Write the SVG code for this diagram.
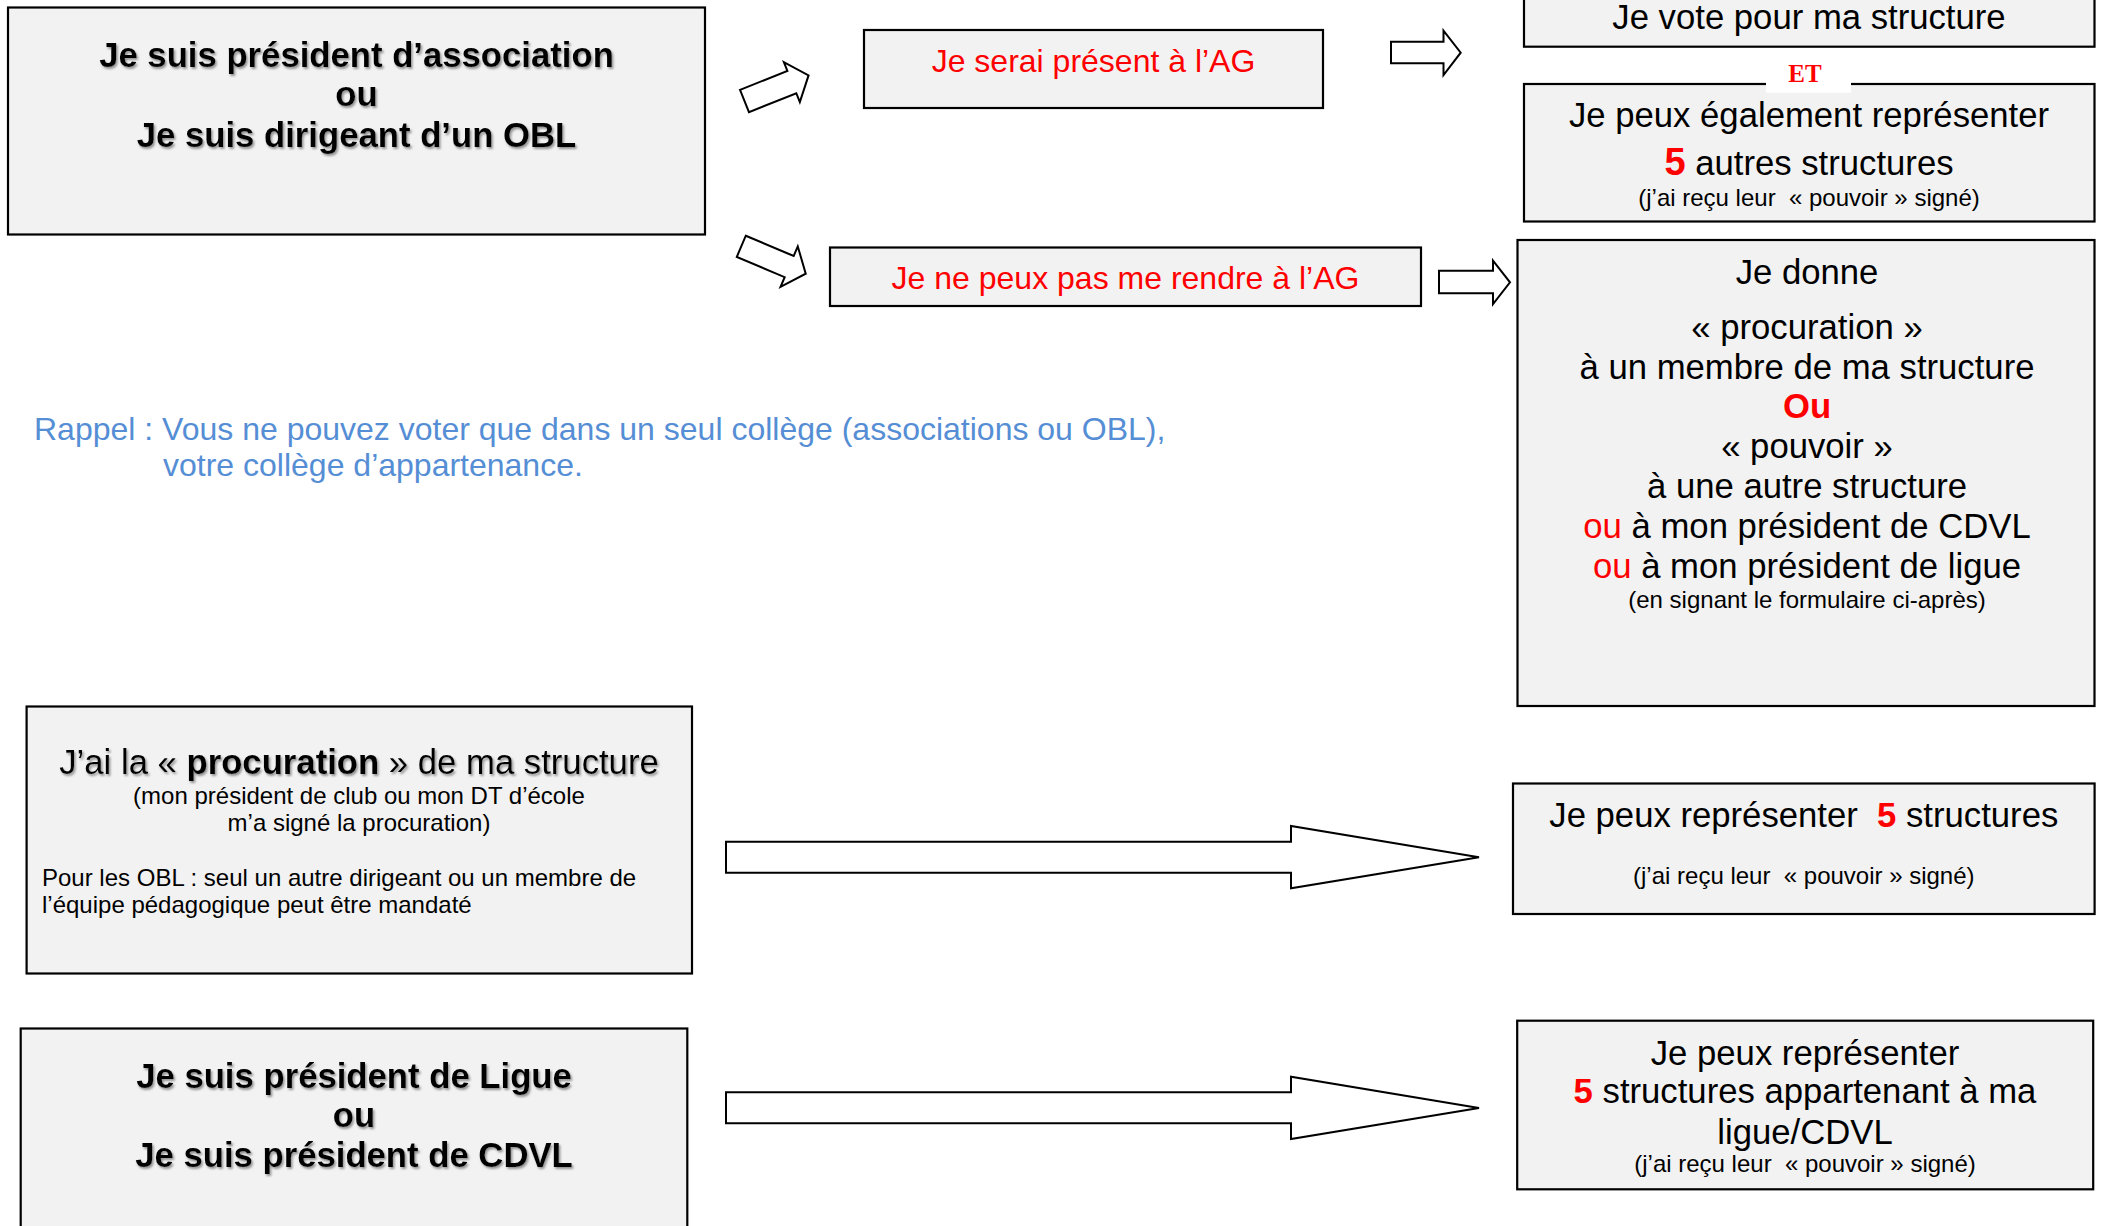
<svg xmlns="http://www.w3.org/2000/svg" width="2101" height="1226" viewBox="0 0 2101 1226">
<defs>
<style>
.box{fill:#f2f2f2;stroke:#000;stroke-width:2.2}
.arr{fill:#fff;stroke:#000;stroke-width:2;stroke-linejoin:miter}
text{font-family:"Liberation Sans",Arial,sans-serif;fill:#000}
.big{font-size:34.7px}
.bold{font-weight:bold}
.mid{text-anchor:middle}
.sm{font-size:24px}
.red{fill:#ff0000}
.ag{font-size:32px;fill:#ff0000}
.blue{font-size:32px;fill:#558ed5}
.et{font-family:"Liberation Serif","Times New Roman",serif;font-weight:bold;font-size:25px;fill:#ff0000;text-anchor:middle}
</style>
<filter id="shadow" x="-5%" y="-30%" width="110%" height="160%">
<feDropShadow dx="1.5" dy="2" stdDeviation="1" flood-color="#808080" flood-opacity="0.85"/>
</filter>
</defs>
<rect x="0" y="0" width="2101" height="1226" fill="#fff"/>

<g id="connectors">
<polygon class="arr" transform="translate(744.5,101) rotate(-21.8)" points="0,-12 51,-12 51,-21.5 69,0 51,21.5 51,12 0,12"/>
<polygon class="arr" transform="translate(741.3,246.3) rotate(23)" points="0,-11.5 52,-11.5 52,-22 70,0 52,22 52,11.5 0,11.5"/>
<polygon class="arr" points="1391,41.7 1443.5,41.7 1443.5,30.7 1460.7,52.7 1443.5,75 1443.5,63.3 1391,63.3"/>
<polygon class="arr" points="1439,270.7 1493,270.7 1493,260.7 1510,282.3 1493,304 1493,293.3 1439,293.3"/>
<polygon class="arr" points="726,841.7 1291,841.7 1291,826 1479,857.3 1291,888.3 1291,872.7 726,872.7"/>
<polygon class="arr" points="726,1092.3 1291,1092.3 1291,1076.7 1479,1108 1291,1139 1291,1123.3 726,1123.3"/>
</g>

<g id="node-president">
<rect class="box" x="8" y="7.5" width="697" height="227" stroke-width="2.6"/>
<g filter="url(#shadow)">
<text class="big bold mid" x="356.5" y="66.5">Je suis président d’association</text>
<text class="big bold mid" x="356.5" y="105.5">ou</text>
<text class="big bold mid" x="356.5" y="146.5">Je suis dirigeant d’un OBL</text>
</g>
</g>

<g id="node-present">
<rect class="box" x="864" y="30" width="459" height="78"/>
<text class="ag mid" x="1093.5" y="71.5">Je serai présent à l’AG</text>
</g>

<g id="node-absent">
<rect class="box" x="830" y="247.5" width="591" height="58.5"/>
<text class="ag mid" x="1125.5" y="288.5">Je ne peux pas me rendre à l’AG</text>
</g>

<g id="node-vote">
<rect class="box" x="1524" y="-20" width="570.5" height="66.7"/>
<text class="big mid" x="1809" y="28.5">Je vote pour ma structure</text>
</g>

<g id="node-represent-other">
<rect class="box" x="1524" y="84" width="570.5" height="137.5"/>
<text class="big mid" x="1809" y="127">Je peux également représenter</text>
<text class="big mid" x="1809" y="174.5"><tspan class="bold red" font-size="38">5</tspan> autres structures</text>
<text class="sm mid" x="1809" y="205.5">(j’ai reçu leur&#160; « pouvoir » signé)</text>
</g>

<g id="label-et">
<rect x="1766" y="60" width="85" height="32.7" fill="#fff"/>
<text class="et" x="1805" y="82">ET</text>
</g>

<g id="node-procuration-give">
<rect class="box" x="1517.5" y="240" width="577" height="466"/>
<text class="big mid" x="1807" y="283.5">Je donne</text>
<text class="big mid" x="1807" y="338.5">« procuration »</text>
<text class="big mid" x="1807" y="378.5">à un membre de ma structure</text>
<text class="big bold mid red" x="1807" y="418">Ou</text>
<text class="big mid" x="1807" y="458">« pouvoir »</text>
<text class="big mid" x="1807" y="498">à une autre structure</text>
<text class="big mid" x="1807" y="538"><tspan class="red">ou</tspan> à mon président de CDVL</text>
<text class="big mid" x="1807" y="577.5"><tspan class="red">ou</tspan> à mon président de ligue</text>
<text class="sm mid" x="1807" y="607.5">(en signant le formulaire ci-après)</text>
</g>

<g id="note-rappel">
<text class="blue" x="34" y="439.5">Rappel : Vous ne pouvez voter que dans un seul collège (associations ou OBL),</text>
<text class="blue" x="163" y="476">votre collège d’appartenance.</text>
</g>

<g id="node-has-procuration">
<rect class="box" x="26.6" y="706.5" width="665.4" height="267"/>
<text class="big mid" x="359" y="773.5" filter="url(#shadow)">J’ai la « <tspan class="bold">procuration</tspan> » de ma structure</text>
<text class="sm mid" x="359" y="804">(mon président de club ou mon DT d’école</text>
<text class="sm mid" x="359" y="831">m’a signé la procuration)</text>
<text class="sm" x="42" y="886">Pour les OBL : seul un autre dirigeant ou un membre de</text>
<text class="sm" x="42" y="912.5">l’équipe pédagogique peut être mandaté</text>
</g>

<g id="node-represent-5">
<rect class="box" x="1513" y="783.5" width="581.6" height="130.5"/>
<text class="big mid" x="1803.8" y="826.5">Je peux représenter&#160; <tspan class="bold red">5</tspan> structures</text>
<text class="sm mid" x="1803.8" y="884">(j’ai reçu leur&#160; « pouvoir » signé)</text>
</g>

<g id="node-president-ligue">
<rect class="box" x="20.7" y="1028.5" width="666.6" height="220" stroke-width="2.6"/>
<g filter="url(#shadow)">
<text class="big bold mid" x="354" y="1088">Je suis président de Ligue</text>
<text class="big bold mid" x="354" y="1127">ou</text>
<text class="big bold mid" x="354" y="1167">Je suis président de CDVL</text>
</g>
</g>

<g id="node-represent-ligue">
<rect class="box" x="1517.2" y="1020.7" width="576" height="168.6"/>
<text class="big mid" x="1805" y="1065">Je peux représenter</text>
<text class="big mid" x="1805" y="1103"><tspan class="bold red">5</tspan> structures appartenant à ma</text>
<text class="big mid" x="1805" y="1143.5">ligue/CDVL</text>
<text class="sm mid" x="1805" y="1172">(j’ai reçu leur&#160; « pouvoir » signé)</text>
</g>
</svg>
